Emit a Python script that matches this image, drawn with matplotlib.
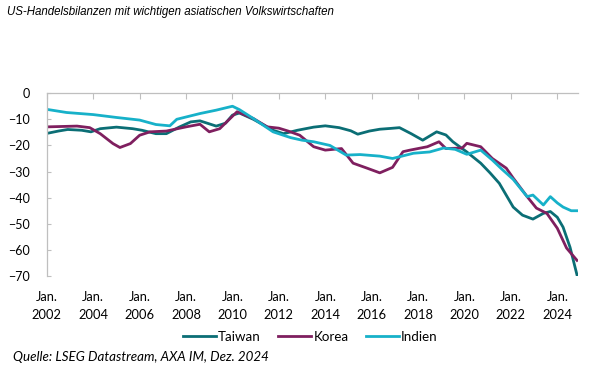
import numpy as np
import matplotlib
matplotlib.use("Agg")
import matplotlib.pyplot as plt

# Werte in Mrd. USD, Zeit als Dezimaljahr
taiwan_t = [2002.0, 2002.5, 2002.9, 2003.5, 2003.9, 2004.3, 2005.0, 2005.7, 2006.1, 2006.7,
            2007.15, 2007.7, 2008.2, 2008.6, 2009.3, 2009.7, 2010.0, 2010.3, 2010.9, 2011.75,
            2012.2, 2012.8, 2013.5, 2014.0, 2014.6, 2015.1, 2015.4, 2015.9, 2016.35, 2016.8,
            2017.2, 2017.7, 2018.2, 2018.8, 2019.2, 2019.5, 2020.1, 2020.7, 2021.1, 2021.5,
            2022.1, 2022.5, 2022.95, 2023.4, 2023.7, 2024.0, 2024.25, 2024.55, 2024.85]
taiwan_v = [-15.4, -14.5, -13.9, -14.2, -14.8, -13.6, -13.0, -13.6, -14.2, -15.5,
            -15.5, -13.0, -11.0, -10.6, -12.6, -11.5, -8.4, -7.6, -10.0, -14.2,
            -15.5, -14.2, -13.0, -12.5, -13.2, -14.4, -15.7, -14.5, -13.8, -13.5,
            -13.2, -15.5, -18.0, -14.8, -16.0, -18.6, -22.5, -26.8, -30.5, -34.5,
            -43.6, -46.7, -48.2, -46.0, -45.3, -47.5, -51.3, -59.0, -69.6]

korea_t = [2002.0, 2003.3, 2003.85, 2004.3, 2004.85, 2005.15, 2005.6, 2006.0, 2006.45, 2007.15,
           2008.0, 2008.6, 2009.0, 2009.45, 2009.9, 2010.2, 2010.9, 2011.5, 2012.0, 2012.4,
           2012.9, 2013.5, 2014.0, 2014.7, 2015.2, 2015.8, 2016.35, 2016.9, 2017.35, 2017.65,
           2018.4, 2018.9, 2019.2, 2019.9, 2020.1, 2020.7, 2021.2, 2021.8, 2022.1, 2022.7,
           2023.1, 2023.55, 2024.0, 2024.4, 2024.85]
korea_v = [-12.9, -12.6, -13.2, -15.5, -19.3, -20.8, -19.3, -16.1, -14.8, -14.5,
           -12.9, -11.9, -14.8, -13.6, -9.7, -7.1, -9.7, -12.9, -13.4, -14.5,
           -16.1, -20.5, -21.8, -21.2, -26.8, -28.7, -30.5, -28.4, -22.4, -21.8,
           -20.5, -18.6, -21.2, -21.0, -19.2, -20.5, -25.0, -28.7, -32.5, -39.6,
           -44.0, -46.0, -51.7, -59.3, -64.0]

indien_t = [2002.0, 2002.85, 2004.0, 2005.0, 2006.0, 2006.7, 2007.3, 2007.6, 2008.6, 2009.3,
            2010.0, 2010.3, 2010.9, 2011.75, 2012.5, 2013.0, 2013.5, 2014.2, 2014.9, 2015.5,
            2016.35, 2016.9, 2017.8, 2018.5, 2019.1, 2019.6, 2020.1, 2020.7, 2021.2, 2021.6,
            2022.1, 2022.7, 2022.95, 2023.4, 2023.7, 2024.0, 2024.25, 2024.6, 2024.85]
indien_v = [-6.2, -7.4, -8.2, -9.3, -10.3, -12.0, -12.5, -10.0, -7.8, -6.5,
            -5.0, -6.3, -9.7, -14.8, -17.0, -18.0, -18.6, -20.0, -23.7, -23.5,
            -24.1, -25.0, -23.0, -22.5, -21.0, -21.5, -23.4, -21.8, -25.6, -29.0,
            -33.0, -39.6, -39.0, -42.8, -39.6, -42.0, -43.6, -45.0, -45.0]

tick_years = list(range(2002, 2025, 2))
tick_labels = [f"Jan.\n{y}" for y in tick_years]

grey = "#BFBFBF"

fig = plt.figure(figsize=(5.93, 3.85), dpi=100)
ax = fig.add_axes([0.079, 0.283, 0.896, 0.475])

ax.plot(taiwan_t, taiwan_v, color="#0B6E75", lw=2.0, label="Taiwan")
ax.plot(korea_t, korea_v, color="#7F1F5F", lw=2.0, label="Korea")
ax.plot(indien_t, indien_v, color="#17B1C9", lw=2.0, label="Indien")

ax.set_xlim(2002, 2024.9)
ax.set_ylim(-70, 0)
ax.set_yticks(np.arange(-70, 1, 10))
ax.set_xticks(tick_years)
ax.set_xticklabels(tick_labels, fontfamily="Lato", fontsize=9.3, linespacing=1.55)
for lab in ax.get_yticklabels():
    lab.set_fontfamily("Lato")
    lab.set_fontsize(9.0)

for s in ["right", "bottom"]:
    ax.spines[s].set_visible(False)
for s in ["left", "top"]:
    ax.spines[s].set_color(grey)
    ax.spines[s].set_linewidth(0.9)

ax.tick_params(axis="x", top=True, bottom=False, labeltop=False, labelbottom=True,
               direction="in", length=4, color=grey, pad=11)
ax.tick_params(axis="y", direction="in", length=3, color=grey, pad=12)

fig.legend(loc="center", bbox_to_anchor=(0.523, 0.125), ncol=3, frameon=False,
           prop={"family": "Lato", "size": 9.6}, handlelength=2.5,
           handletextpad=0.15, columnspacing=1.3)

fig.text(0.012, 0.968, "US-Handelsbilanzen mit wichtigen asiatischen Volkswirtschaften",
         fontfamily="Liberation Sans", style="italic", fontsize=8.3, va="center")
fig.text(0.022, 0.073, "Quelle: LSEG Datastream, AXA IM, Dez. 2024",
         fontfamily="Lato", style="italic", fontsize=9.6, va="center")

fig.savefig("out.png", dpi=100)
